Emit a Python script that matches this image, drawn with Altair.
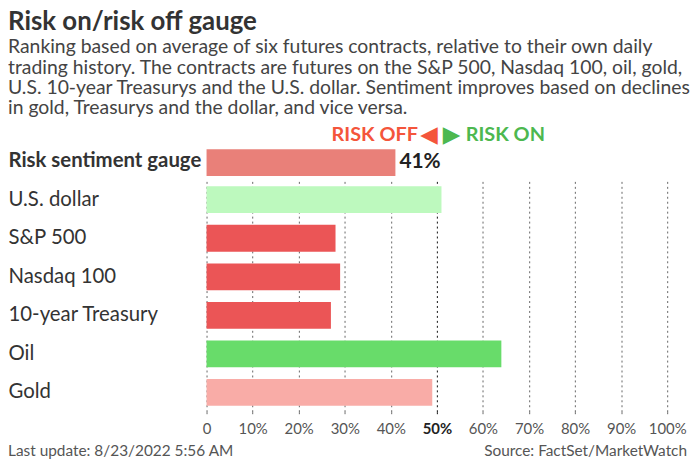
import altair as alt
import pandas as pd

# ---- data ----
categories = ["U.S. dollar", "S&P 500", "Nasdaq 100", "10-year Treasury", "Oil", "Gold"]
values = [51, 28, 29, 27, 64, 49]
bar_colors = ["#BDF9BE", "#EB5556", "#EB5556", "#EB5556", "#68DC6A", "#F9ACA7"]
gauge_label = ["Risk sentiment gauge"]
gauge_value = [41]
gauge_color = ["#E98079"]
tick_values = [0, 10, 20, 30, 40, 50, 60, 70, 80, 90, 100]
midpoint = [50]
title_text = "Risk on/risk off gauge"
subtitle_lines = [
    "Ranking based on average of six futures contracts, relative to their own daily",
    "trading history. The contracts are futures on the S&P 500, Nasdaq 100, oil, gold,",
    "U.S. 10-year Treasurys and the U.S. dollar. Sentiment improves based on declines",
    "in gold, Treasurys and the dollar, and vice versa.",
]
footer_left = ["Last update: 8/23/2022 5:56 AM"]
footer_right = ["Source: FactSet/MarketWatch"]

FONT = "Lato"
W = 464
xs = alt.Scale(domain=[0, 100], nice=False, zero=True)
RED_TXT = "#F4553B"
GREEN_TXT = "#4DB84F"

# ---- top: gauge row ----
gdf = pd.DataFrame({"label": gauge_label, "value": gauge_value,
                    "txt": [f"{v}%" for v in gauge_value]})
top_bar = alt.Chart(gdf).mark_bar(size=27, yOffset=2, color=gauge_color[0]).encode(
    x=alt.X("value:Q", scale=xs, axis=None),
    y=alt.Y("label:N", axis=alt.Axis(title=None, labelAlign="left", labelPadding=200,
                                     ticks=False, domain=False, labelFont=FONT,
                                     labelFontSize=20.5, labelFontWeight="bold",
                                     labelColor="#333333", labelLimit=300)),
)
top_text = top_bar.mark_text(align="left", dx=4, yOffset=2, font=FONT, fontSize=21,
                             fontWeight="bold", color="#222222").encode(text="txt:N")

rdf = pd.DataFrame({"pos": midpoint, "off": ["RISK OFF"], "on": ["RISK ON"],
                    "tl": ["\u25C0"], "tr": ["\u25B6"]})


def risk_text(field, align, dx, color, font=FONT, size=20, weight="bold", dy=0):
    return alt.Chart(rdf).mark_text(align=align, dx=dx, dy=dy, baseline="alphabetic", font=font,
                                    fontSize=size, fontWeight=weight, color=color).encode(
        x=alt.X("pos:Q", scale=xs, axis=None), y=alt.value(0), text=f"{field}:N")


risk_off = risk_text("off", "right", -19, RED_TXT)
tri_l = risk_text("tl", "right", 1, RED_TXT, font="DejaVu Sans", size=23, weight="normal", dy=1)
tri_r = risk_text("tr", "left", 6, GREEN_TXT, font="DejaVu Sans", size=23, weight="normal", dy=1)
risk_on = risk_text("on", "left", 29, GREEN_TXT)

top = alt.layer(top_bar, top_text, risk_off, tri_l, tri_r, risk_on).properties(width=W, height=40)

# ---- bottom: components ----
H = 233
df = pd.DataFrame({"cat": categories, "value": values})
bars = alt.Chart(df).mark_bar(size=27).encode(
    x=alt.X("value:Q", scale=xs, axis=alt.Axis(
        values=tick_values, title=None, domain=False, labelOverlap=False, labelFlush=False,
        ticks=True, tickSize=4, tickDash=[2, 3],
        tickColor={"expr": "datum.value === 50 ? '#111111' : '#666666'"},
        labelExpr="datum.value === 0 ? '0' : datum.value + '%'",
        labelFont=FONT, labelFontSize=15, labelPadding=6,
        labelColor={"expr": "datum.value === 50 ? '#222222' : '#555555'"},
        labelFontWeight={"expr": "datum.value === 50 ? 'bold' : 'normal'"},
        grid=True, gridDash=[2, 3], gridWidth=1,
        gridColor={"expr": "datum.value === 50 ? '#111111' : '#666666'"},
    )),
    y=alt.Y("cat:N", sort=categories, axis=alt.Axis(
        title=None, labelAlign="left", labelPadding=200, ticks=False, domain=False,
        labelFont=FONT, labelFontSize=20.5, labelColor="#333333", labelLimit=300)),
    color=alt.Color("cat:N", scale=alt.Scale(domain=categories, range=bar_colors), legend=None),
)

fdf = pd.DataFrame({"left": footer_left, "right": footer_right})
foot_l = alt.Chart(fdf).mark_text(align="left", baseline="middle", font=FONT, fontSize=15.5,
                                  color="#555555").encode(
    x=alt.value(-200), y=alt.value(H + 40), text="left:N")
foot_r = alt.Chart(fdf).mark_text(align="right", baseline="middle", font=FONT, fontSize=15.5,
                                  color="#555555").encode(
    x=alt.value(W + 20), y=alt.value(H + 40), text="right:N")

bottom = alt.layer(bars, foot_l, foot_r).properties(width=W, height=H)

chart = alt.vconcat(top, bottom, spacing=0).properties(
    title=alt.TitleParams(
        text=title_text, subtitle=subtitle_lines, anchor="start", frame="bounds",
        font=FONT, fontSize=26, fontWeight="bold", color="#333333",
        subtitleFont=FONT, subtitleFontSize=19.5, subtitleColor="#444444",
        subtitleLineHeight=20.5, subtitlePadding=3, offset=0, dy=-6,
    ),
    padding={"left": 0, "right": 0, "top": 0, "bottom": 0},
).configure_view(stroke=None).configure_concat(spacing=0)

chart.save("out.html", embed_options={"renderer": "svg", "actions": False})
